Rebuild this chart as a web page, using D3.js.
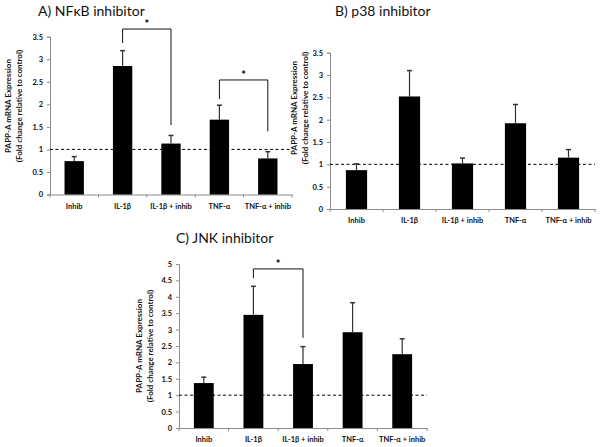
<!DOCTYPE html>
<html>
<head>
<meta charset="utf-8">
<script src="https://cdn.jsdelivr.net/npm/d3@7"></script>
<style>
  html, body { margin: 0; padding: 0; background: #fff; }
  svg { display: block; }
</style>
</head>
<body>
<svg id="chart" width="601" height="447"></svg>
<script>
// ---------- data ----------
const categories = ["Inhib", "IL-1β", "IL-1β + inhib", "TNF-α", "TNF-α + inhib"];

const nfkbMeans  = [0.74, 2.85, 1.13, 1.66, 0.80];
const nfkbErrors = [0.10, 0.34, 0.18, 0.32, 0.15];

const p38Means   = [0.87, 2.52, 1.02, 1.92, 1.15];
const p38Errors  = [0.14, 0.58, 0.12, 0.42, 0.18];

const jnkMeans   = [1.37, 3.45, 1.95, 2.92, 2.25];
const jnkErrors  = [0.18, 0.87, 0.53, 0.90, 0.47];

const ticksAB = [0, 0.5, 1, 1.5, 2, 2.5, 3, 3.5];
const ticksC  = [0, 0.5, 1, 1.5, 2, 2.5, 3, 3.5, 4, 4.5, 5];

const controlLevel = 1;

// significance brackets: [fromIndex, toIndex, topValue, leftBottomValue, rightBottomValue]
const nfkbBrackets = [[1, 2, 3.67, 3.36, 1.54], [3, 4, 2.54, 2.12, 1.40]];
const p38Brackets  = [];
const jnkBrackets  = [[1, 2, 4.85, 4.57, 2.75]];

const titles = ["A) NFκB inhibitor", "B) p38 inhibitor", "C) JNK inhibitor"];
const yLabel1 = "PAPP-A mRNA Expression";
const yLabel2 = "(Fold change relative to control)";

// ---------- drawing ----------
const svg = d3.select("#chart");
const FONT = "Lato, 'Open Sans', sans-serif";

function panel(cfg) {
  const { x0, x1, yBottom, yTop, maxV, ticks, means, errors, brackets, title, titleX, titleY, labelX, labelCY } = cfg;
  const g = svg.append("g");
  const x = d3.scaleBand().domain(categories).range([x0, x1]).paddingInner(0.6).paddingOuter(0.3);
  const xb = d3.scaleBand().domain(categories).range([x0, x1]);
  const y = d3.scaleLinear().domain([0, maxV]).range([yBottom, yTop]);

  // y axis
  const ya = g.append("g").attr("transform", `translate(${x0},0)`)
    .call(d3.axisLeft(y).tickValues(ticks).tickSize(3).tickPadding(4)
      .tickFormat(d => d3.format("")(d)));
  ya.select(".domain").attr("stroke", "#8c8c8c");
  ya.selectAll(".tick line").attr("stroke", "#8c8c8c");

  // x axis
  const xa = g.append("g").attr("transform", `translate(0,${yBottom})`)
    .call(d3.axisBottom(xb).tickSize(0).tickPadding(9));
  xa.select(".domain").attr("stroke", "#8c8c8c");
  const bounds = categories.map(c => xb(c)).concat([x1]);
  g.selectAll(".btick").data(bounds).enter().append("line")
    .attr("x1", d => d).attr("x2", d => d)
    .attr("y1", yBottom).attr("y2", yBottom + 3)
    .attr("stroke", "#8c8c8c");

  // bars
  g.selectAll(".bar").data(means).enter().append("rect")
    .attr("x", (d, i) => x(categories[i]))
    .attr("width", x.bandwidth())
    .attr("y", d => y(d))
    .attr("height", d => yBottom - y(d))
    .attr("fill", "#000");

  // error bars
  const eb = g.selectAll(".err").data(means).enter().append("g");
  eb.append("line")
    .attr("x1", (d, i) => x(categories[i]) + x.bandwidth() / 2)
    .attr("x2", (d, i) => x(categories[i]) + x.bandwidth() / 2)
    .attr("y1", d => y(d))
    .attr("y2", (d, i) => y(d + errors[i]))
    .attr("stroke", "#333").attr("stroke-width", 1.2);
  eb.append("line")
    .attr("x1", (d, i) => x(categories[i]) + x.bandwidth() / 2 - 2.5)
    .attr("x2", (d, i) => x(categories[i]) + x.bandwidth() / 2 + 2.5)
    .attr("y1", (d, i) => y(d + errors[i]))
    .attr("y2", (d, i) => y(d + errors[i]))
    .attr("stroke", "#333").attr("stroke-width", 1.5);

  // dashed control line
  g.append("line")
    .attr("x1", x0).attr("x2", x1)
    .attr("y1", y(controlLevel)).attr("y2", y(controlLevel))
    .attr("stroke", "#000").attr("stroke-width", 1)
    .attr("stroke-dasharray", "3,2.5");

  // brackets
  brackets.forEach(b => {
    const xa_ = x(categories[b[0]]) + x.bandwidth() / 2;
    const xb_ = x(categories[b[1]]) + x.bandwidth() / 2;
    g.append("path")
      .attr("d", `M${xa_},${y(b[3])}V${y(b[2])}H${xb_}V${y(b[4])}`)
      .attr("fill", "none").attr("stroke", "#111").attr("stroke-width", 1);
    g.append("text")
      .attr("x", (xa_ + xb_) / 2).attr("y", y(b[2]) - 1)
      .attr("text-anchor", "middle")
      .style("font-family", FONT).style("font-size", "11px").style("font-weight", 700)
      .text("*");
  });

  // title
  g.append("text").attr("x", titleX).attr("y", titleY)
    .style("font-family", FONT).style("font-size", "14px")
    .style("fill", "#111")
    .text(title);

  // y label
  const lab = g.append("text")
    .attr("transform", `translate(${labelX},${labelCY}) rotate(-90)`)
    .attr("text-anchor", "middle")
    .style("font-family", FONT).style("font-size", "8px").style("font-weight", 700)
    .style("fill", "#111");
  lab.append("tspan").attr("x", 0).attr("dy", 0).text(yLabel1);
  lab.append("tspan").attr("x", 0).attr("dy", 10.5).text(yLabel2);

  g.selectAll(".tick text").style("font-family", FONT)
    .style("font-weight", 700).style("font-size", "7.5px").style("fill", "#111");
}

panel({ x0: 50, x1: 292, yBottom: 194.5, yTop: 36.7, maxV: 3.5, ticks: ticksAB,
  means: nfkbMeans, errors: nfkbErrors, brackets: nfkbBrackets,
  title: titles[0], titleX: 38, titleY: 16, labelX: 11, labelCY: 106 });

panel({ x0: 330, x1: 595, yBottom: 209, yTop: 52.7, maxV: 3.5, ticks: ticksAB,
  means: p38Means, errors: p38Errors, brackets: p38Brackets,
  title: titles[1], titleX: 335, titleY: 16, labelX: 297, labelCY: 108 });

panel({ x0: 179, x1: 427, yBottom: 428, yTop: 264, maxV: 5, ticks: ticksC,
  means: jnkMeans, errors: jnkErrors, brackets: jnkBrackets,
  title: titles[2], titleX: 176, titleY: 243, labelX: 142, labelCY: 346 });
</script>
</body>
</html>
